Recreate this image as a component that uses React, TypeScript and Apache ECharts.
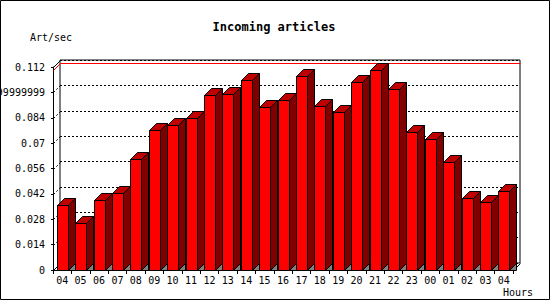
import React, { useEffect, useRef } from "react";
import * as echarts from "echarts";

const hours = ["04","05","06","07","08","09","10","11","12","13","14","15","16","17","18","19","20","21","22","23","00","01","02","03","04"];
const articlesPerSec = [0.0359,0.0258,0.0386,0.0423,0.0611,0.0772,0.0800,0.0837,0.0966,0.0971,0.1048,0.0898,0.0938,0.1070,0.0905,0.0872,0.1035,0.1103,0.0999,0.0761,0.0723,0.0594,0.0395,0.0373,0.0434];
const yTickValues = [0,0.014,0.028,0.042,0.056,0.07,0.084,0.098,0.112];
const yTickLabels = ["0","0.014","0.028","0.042","0.056","0.07","0.084","0.09799999999999999","0.112"];
const Y_MIN = 0;
const Y_MAX = 0.112;
const Y_STEP = 0.014;

const DX = 7;
const DY = 7;
const FONT = "DejaVu Sans Mono";

const px = (v: number) => Math.round(v) + 0.5;

export default function App() {
  const ref = useRef<HTMLDivElement>(null);
  useEffect(() => {
    if (!ref.current) return;
    const chart = echarts.init(ref.current, null, { renderer: "svg" });
    const maxV = Math.max(...articlesPerSec);
    const n = hours.length;

    const option: any = {
      animation: false,
      backgroundColor: "#fff",
      grid: [
        { left: 53, top: 67, width: 460, height: 203, containLabel: false, outerBoundsMode: "none" },
        { left: 60, top: 60, width: 460, height: 203, containLabel: false, outerBoundsMode: "none", show: true, borderColor: "#000", borderWidth: 1, backgroundColor: "transparent" },
      ],
      xAxis: [
        {
          gridIndex: 0,
          type: "category",
          data: hours,
          boundaryGap: true,
          axisLine: { show: true, lineStyle: { color: "#000", width: 1 } },
          axisTick: { show: true, length: 4, lineStyle: { color: "#000" } },
          axisLabel: { interval: 0, margin: 5, color: "#000", fontFamily: FONT, fontSize: 10 },
          splitLine: { show: false },
        },
        { gridIndex: 1, type: "category", data: hours, show: false },
      ],
      yAxis: [
        {
          gridIndex: 0,
          type: "value",
          min: Y_MIN,
          max: Y_MAX,
          interval: Y_STEP,
          axisLine: { show: true, lineStyle: { color: "#000", width: 1 } },
          axisTick: { show: true, length: 2, lineStyle: { color: "#000" } },
          axisLabel: {
            margin: 8,
            color: "#000",
            fontFamily: FONT,
            fontSize: 10,
            hideOverlap: false,
            formatter: (_v: number, idx: number) => yTickLabels[idx] ?? String(_v),
          },
          splitLine: { show: false },
        },
        {
          gridIndex: 1,
          type: "value",
          min: Y_MIN,
          max: Y_MAX,
          interval: Y_STEP,
          axisLine: { show: false },
          axisTick: { show: false },
          axisLabel: { show: false },
          splitLine: { show: true, lineStyle: { color: "#000", width: 1, type: [2, 2] } },
        },
      ],
      series: [
        {
          type: "custom",
          name: "wall",
          xAxisIndex: 0,
          yAxisIndex: 0,
          clip: false,
          silent: true,
          data: yTickValues.map((v) => [0, v]),
          renderItem: (_p: any, api: any) => {
            const v = api.value(1);
            const c = api.coord([0, v]);
            const band = api.size([1, 0])[0];
            const x0 = c[0] - band / 2;
            const y = c[1];
            const solid = v === Y_MIN || v === Y_MAX;
            const children: any[] = [
              {
                type: "line",
                shape: { x1: px(x0), y1: px(y), x2: px(x0 + DX), y2: px(y - DY) },
                style: { stroke: "#000", lineWidth: 1, lineDash: solid ? null : [2, 2] },
              },
            ];
            if (v === Y_MIN) {
              const xr = x0 + band * n;
              children.push({
                type: "line",
                shape: { x1: px(xr), y1: px(y), x2: px(xr + DX), y2: px(y - DY) },
                style: { stroke: "#000", lineWidth: 1 },
              });
            }
            return { type: "group", children };
          },
        },
        {
          type: "custom",
          name: "max",
          xAxisIndex: 0,
          yAxisIndex: 0,
          clip: false,
          silent: true,
          data: [[0, maxV]],
          renderItem: (_p: any, api: any) => {
            const c = api.coord([0, api.value(1)]);
            const band = api.size([1, 0])[0];
            const x0 = c[0] - band / 2;
            const y = c[1];
            return {
              type: "polyline",
              shape: {
                points: [
                  [px(x0), px(y)],
                  [px(x0 + DX), px(y - DY)],
                  [px(x0 + DX + band * n), px(y - DY)],
                ],
              },
              style: { stroke: "#ff0000", lineWidth: 1, fill: null },
            };
          },
        },
        {
          type: "custom",
          name: "Art/sec",
          xAxisIndex: 0,
          yAxisIndex: 0,
          clip: false,
          data: articlesPerSec.map((v, i) => [i, v]),
          renderItem: (_p: any, api: any) => {
            const i = api.value(0);
            const v = api.value(1);
            const t = api.coord([i, v]);
            const b = api.coord([i, 0]);
            const band = api.size([1, 0])[0];
            const w = Math.round(band * 0.6);
            const xl = px(t[0] - w / 2);
            const xr = xl + w;
            const yt = px(t[1]);
            const yb = px(b[1]);
            const st = { stroke: "#000", lineWidth: 1 };
            return {
              type: "group",
              children: [
                { type: "polygon", shape: { points: [[xr, yt], [xr + DX, yt - DY], [xr + DX, yb - DY], [xr, yb]] }, style: { ...st, fill: "#800000" } },
                { type: "polygon", shape: { points: [[xr, yb], [xr + DX, yb - DY], [xr + DX, yb]] }, style: { ...st, fill: "#808080" } },
                { type: "polygon", shape: { points: [[xl, yt], [xl + DX, yt - DY], [xr + DX, yt - DY], [xr, yt]] }, style: { ...st, fill: "#c00000" } },
                { type: "rect", shape: { x: xl, y: yt, width: w, height: yb - yt }, style: { ...st, fill: "#ff0000" } },
              ],
            };
          },
        },
      ],
      graphic: [
        { type: "rect", shape: { x: 0.5, y: 0.5, width: 549, height: 299 }, style: { fill: "none", stroke: "#000", lineWidth: 1 }, silent: true },
        { type: "text", x: 274, y: 27, style: { text: "Incoming articles", fill: "#000", font: `bold 12px "${FONT}"`, align: "center", verticalAlign: "middle" } },
        { type: "text", x: 30, y: 37, style: { text: "Art/sec", fill: "#000", font: `10px "${FONT}"`, align: "left", verticalAlign: "middle" } },
        { type: "text", x: 533, y: 292, style: { text: "Hours", fill: "#000", font: `10px "${FONT}"`, align: "right", verticalAlign: "middle" } },
      ],
    };
    chart.setOption(option);
    return () => chart.dispose();
  }, []);
  return (
    <div
      ref={ref}
      style={{ position: "absolute", left: 0, top: 0, width: 550, height: 300, background: "#fff" }}
    />
  );
}
